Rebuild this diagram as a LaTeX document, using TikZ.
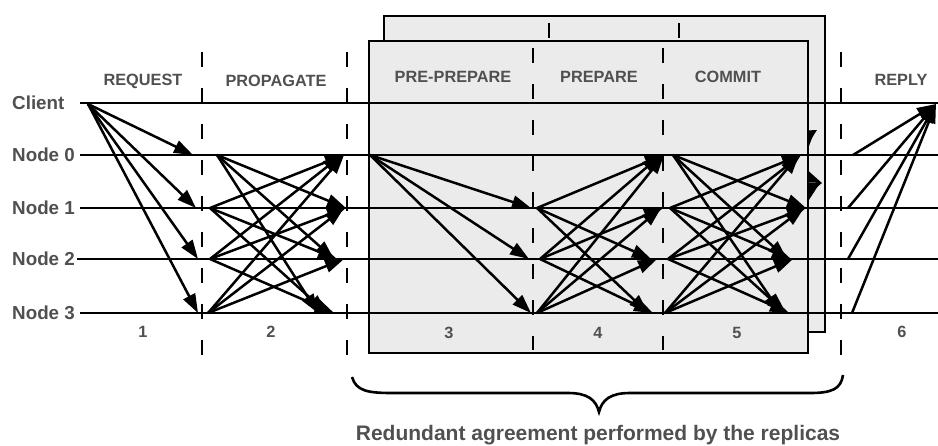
\documentclass[tikz,border=0pt]{standalone}
\usepackage{fontspec}
\setmainfont{Liberation Sans}
\usetikzlibrary{arrows.meta}

\definecolor{txt}{HTML}{505050}
\definecolor{boxfill}{HTML}{EBEBEB}

\begin{document}
\begin{tikzpicture}[x=1pt,y=-1pt,
  timeline/.style={line width=2.9pt},
  msg/.style={line width=2.5pt,-{Triangle[length=19pt,width=13pt]}},
  phaseline/.style={line width=2.8pt,dash pattern=on 15pt off 21pt},
  replica/.style={line width=2.8pt,fill=boxfill},
  who/.style={font=\fontsize{18.8}{20}\selectfont\bfseries,text=txt,inner sep=0pt,anchor=west},
  phasename/.style={font=\fontsize{16.3}{18}\selectfont\bfseries,text=txt,inner sep=0pt},
  stepno/.style={font=\fontsize{16.3}{18}\selectfont\bfseries,text=txt,inner sep=0pt},
  caption/.style={font=\fontsize{21}{24}\selectfont\bfseries,text=txt,inner sep=0pt,anchor=base}]

\useasboundingbox (0,0) rectangle (938,445);

% ---------- coordinates ----------
% time lines
\foreach \n/\y/\x in {cl/103/80,n0/155/80,n1/208/80,n2/259/77,n3/313/80}{
  \coordinate (\n-a) at (\x,\y);
  \coordinate (\n-b) at (938,\y);
}
% phase separators
\foreach \n/\x in {d1/202,d2/347,d5/841}{
  \coordinate (\n-t) at (\x,52);
  \coordinate (\n-u) at (\x,357);
}
\foreach \n/\x in {d3/533,d4/663}{
  \coordinate (\n-t) at (\x,48);
  \coordinate (\n-u) at (\x,350);
}
\foreach \n/\x in {e3/549,e4/679}{
  \coordinate (\n-t) at (\x,23);
  \coordinate (\n-u) at (\x,325);
}
% request
\coordinate (rq-s) at (88,104);
\foreach \n/\x/\y in {rq-0/193/155,rq-1/196/208,rq-2/198/259,rq-3/198/313}
  \coordinate (\n) at (\x,\y);
% propagate
\foreach \n/\x/\y in {pg-s0/217/155,pg-s1/210/208,pg-s2/210/259,pg-s3/208/313,
  pg-1-0/344/155,pg-2-0/342/155,pg-3-0/344/155,
  pg-0-1/346/208,pg-2-1/346/208,pg-3-1/344/208,
  pg-0-2/334/259,pg-1-2/337/259,pg-3-2/344/259,
  pg-0-3/318/313,pg-1-3/327/313,pg-2-3/334/313}
  \coordinate (\n) at (\x,\y);
% pre-prepare
\coordinate (pp-s) at (370,155);
\foreach \n/\x/\y in {pp-1/531/208,pp-2/529/259,pp-3/531/313}
  \coordinate (\n) at (\x,\y);
% prepare
\foreach \n/\x/\y in {pa-s1/537/208,pa-s2/540/259,pa-s3/537/313,
  pa-1-0/664/155,pa-2-0/661/155,pa-3-0/664/155,
  pa-2-1/663/208,pa-3-1/661/208,
  pa-1-2/651/259,pa-3-2/657/259,
  pa-1-3/648/313,pa-2-3/653/313}
  \coordinate (\n) at (\x,\y);
% commit
\foreach \n/\x/\y in {cm-s0/673/155,cm-s1/670/208,cm-s2/668/259,cm-s3/665/313,
  cm-1-0/801/155,cm-2-0/801/155,cm-3-0/799/155,
  cm-0-1/806/208,cm-2-1/806/208,cm-3-1/804/208,
  cm-0-2/787/259,cm-1-2/791/259,cm-3-2/793/259,
  cm-0-3/781/313,cm-1-3/786/313,cm-2-3/789/313}
  \coordinate (\n) at (\x,\y);
% reply
\foreach \n/\x/\y in {rp-s0/853/155,rp-s1/848/208,rp-s2/848/259,rp-s3/852/313}
  \coordinate (\n) at (\x,\y);
\coordinate (rp-e) at (936,104);

% ---------- second replica instance (behind) ----------
\draw[replica] (384,16) rectangle (825,332);
\foreach \d in {e3,e4} \draw[phaseline] (\d-t) -- (\d-u);
\begin{scope}
  \clip (384,16) rectangle (825,332);
  \begin{scope}[transform canvas={shift={(16,-25)}}]
    \foreach \i/\j in {1/0,2/0,3/0,0/1,2/1,3/1,0/2,1/2,3/2,0/3,1/3,2/3}
      \draw[msg] (cm-s\i) -- (cm-\i-\j);
  \end{scope}
\end{scope}

% ---------- first replica instance ----------
\draw[replica] (369,41) rectangle (808,353);
\foreach \d in {d3,d4} \draw[phaseline] (\d-t) -- (\d-u);

% ---------- phase separators ----------
\foreach \d in {d1,d2,d5} \draw[phaseline] (\d-t) -- (\d-u);

% ---------- time lines ----------
\foreach \n in {cl,n0,n1,n2,n3} \draw[timeline] (\n-a) -- (\n-b);
\node[who] (lab-cl) at (12,103) {Client};
\node[who] (lab-n0) at (12,155) {Node 0};
\node[who] (lab-n1) at (12,208) {Node 1};
\node[who] (lab-n2) at (12,259) {Node 2};
\node[who] (lab-n3) at (12,313) {Node 3};

% ---------- messages ----------
\foreach \j in {0,1,2,3} \draw[msg] (rq-s) -- (rq-\j);
\foreach \i/\j in {1/0,2/0,3/0,0/1,2/1,3/1,0/2,1/2,3/2,0/3,1/3,2/3}
  \draw[msg] (pg-s\i) -- (pg-\i-\j);
\foreach \j in {1,2,3} \draw[msg] (pp-s) -- (pp-\j);
\foreach \i/\j in {1/0,2/0,3/0,2/1,3/1,1/2,3/2,1/3,2/3}
  \draw[msg] (pa-s\i) -- (pa-\i-\j);
\foreach \i/\j in {1/0,2/0,3/0,0/1,2/1,3/1,0/2,1/2,3/2,0/3,1/3,2/3}
  \draw[msg] (cm-s\i) -- (cm-\i-\j);
\foreach \i in {0,1,2,3} \draw[msg] (rp-s\i) -- (rp-e);

% ---------- phase names and numbers ----------
\node[phasename] (ph-rq) at (143,81) {REQUEST};
\node[phasename] (ph-pg) at (276,81) {PROPAGATE};
\node[phasename] (ph-pp) at (453,77) {PRE-PREPARE};
\node[phasename] (ph-pa) at (599,77) {PREPARE};
\node[phasename] (ph-cm) at (728,77) {COMMIT};
\node[phasename] (ph-rp) at (901,80) {REPLY};

\node[stepno] (no-1) at (143,332) {1};
\node[stepno] (no-2) at (271,332) {2};
\node[stepno] (no-3) at (449,333) {3};
\node[stepno] (no-4) at (598,333) {4};
\node[stepno] (no-5) at (737,333) {5};
\node[stepno] (no-6) at (902,332) {6};

% ---------- brace and caption ----------
\coordinate (br-l) at (352,377);
\coordinate (br-m) at (599,412);
\coordinate (br-r) at (843,375);
\draw[line width=2.6pt] (br-l) .. controls (356,391) and (368,393) .. (392,393)
  -- (568,393) .. controls (588,393) and (596,400) .. (br-m)
  .. controls (602,400) and (610,393) .. (630,393)
  -- (810,393) .. controls (832,393) and (841,389) .. (br-r);
\node[caption] (cap) at (598,440) {Redundant agreement performed by the replicas};

\end{tikzpicture}
\end{document}
